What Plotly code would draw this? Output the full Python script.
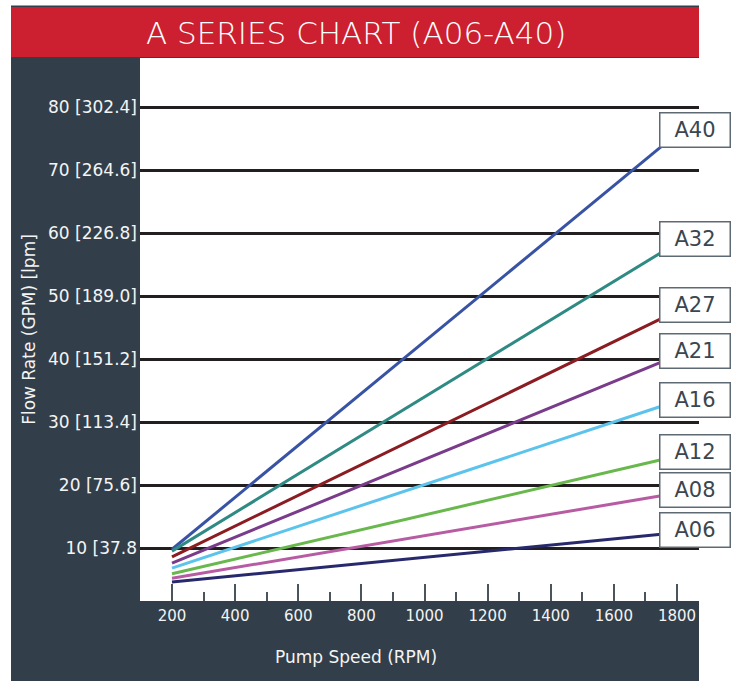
import plotly.graph_objects as go

# ---- data ----
rpm = [200, 1750]
series_names = ["A40", "A32", "A27", "A21", "A16", "A12", "A08", "A06"]
flow_A40 = [9.8, 73.7]
flow_A32 = [9.5, 56.9]
flow_A27 = [8.6, 46.4]
flow_A21 = [7.6, 39.5]
flow_A16 = [6.8, 32.5]
flow_A12 = [5.9, 24.0]
flow_A08 = [5.2, 18.3]
flow_A06 = [4.6, 12.2]
series_values = [flow_A40, flow_A32, flow_A27, flow_A21, flow_A16, flow_A12, flow_A08, flow_A06]

y_tickvals = [10, 20, 30, 40, 50, 60, 70, 80]
y_ticktext = ["10 [37.8", "20 [75.6]", "30 [113.4]", "40 [151.2]",
              "50 [189.0]", "60 [226.8]", "70 [264.6]", "80 [302.4]"]
x_tickvals = [200, 400, 600, 800, 1000, 1200, 1400, 1600, 1800]
x_minor = [300, 500, 700, 900, 1100, 1300, 1500, 1700]

# ---- style ----
colors = ["#3953a4", "#2f8a84", "#8a1c22", "#7a3b8a", "#5cc3ec", "#69b84d", "#b75ca3", "#27296c"]
label_shift = [17, 14, 14, 11, 6, 8, 6, 4]
DARK = "#323f4a"
RED = "#cc1f2f"
TXT = "#f4f4f4"
W, H = 738, 681
L, R, T, B = 140, 699, 58, 601
FONT = "DejaVu Sans"

def px(x):
    return (x - L) / (R - L)

def py(y):
    return (B - y) / (B - T)

fig = go.Figure()
for name, vals, c in zip(series_names, series_values, colors):
    fig.add_trace(go.Scatter(x=rpm, y=vals, mode="lines", name=name,
                             line=dict(color=c, width=3), showlegend=False,
                             hoverinfo="skip"))

annotations = []
for name, vals, s in zip(series_names, series_values, label_shift):
    annotations.append(dict(
        x=rpm[-1], y=vals[-1], xref="x", yref="y", text=name, showarrow=False,
        xanchor="left", yanchor="middle", yshift=s, xshift=-2,
        font=dict(family=FONT, size=21, color="#3a4650"),
        bgcolor="white", bordercolor="#5e6a73", borderwidth=1.5, borderpad=1,
        width=67, height=31,
    ))

annotations.append(dict(
    x=px(356), y=py(33), xref="paper", yref="paper", text="A SERIES CHART (A06-A40)",
    showarrow=False, xanchor="center", yanchor="middle",
    font=dict(family=FONT, size=31, color="white", weight=300),
))
annotations.append(dict(
    x=px(356), y=py(657), xref="paper", yref="paper", text="Pump Speed (RPM)",
    showarrow=False, xanchor="center", yanchor="middle",
    font=dict(family=FONT, size=17, color=TXT),
))

shapes = [
    dict(type="rect", xref="paper", yref="paper", x0=px(11), x1=px(699), y0=py(57), y1=py(681),
         fillcolor=DARK, line=dict(width=0), layer="below"),
    dict(type="rect", xref="paper", yref="paper", x0=px(11), x1=px(699), y0=py(7), y1=py(57),
         fillcolor=RED, line=dict(width=0), layer="below"),
    dict(type="rect", xref="paper", yref="paper", x0=px(11), x1=px(699), y0=py(5.5), y1=py(7),
         fillcolor=DARK, line=dict(width=0), layer="below"),
    dict(type="rect", xref="paper", yref="paper", x0=0, x1=1, y0=0, y1=1,
         fillcolor="white", line=dict(width=0), layer="below"),
]

fig.update_layout(
    width=W, height=H,
    margin=dict(l=L, r=W - R, t=T, b=H - B),
    paper_bgcolor="white", plot_bgcolor="white",
    shapes=shapes, annotations=annotations, hovermode=False,
    xaxis=dict(
        range=[98.6, 1869.7], tickvals=x_tickvals, ticktext=[str(v) for v in x_tickvals],
        ticks="inside", ticklen=17, tickwidth=1.5, tickcolor="#4a545c",
        minor=dict(tickvals=x_minor, ticks="inside", ticklen=9, tickwidth=1.5, tickcolor="#4a545c"),
        showgrid=False, zeroline=False, showline=False,
        tickfont=dict(family=FONT, size=15, color=TXT),
        ticklabelstandoff=4,
    ),
    yaxis=dict(
        range=[1.587, 87.78], tickvals=y_tickvals, ticktext=y_ticktext,
        showgrid=True, gridcolor="#231f20", gridwidth=3, zeroline=False, showline=False,
        ticks="", tickfont=dict(family=FONT, size=17, color=TXT),
        ticklabelstandoff=2,
        title=dict(text="Flow Rate (GPM) [lpm]", font=dict(family=FONT, size=17, color=TXT), standoff=8),
    ),
)

fig.write_html("out.html", config={"displayModeBar": False},
               post_script="document.body.style.margin='0px';")
